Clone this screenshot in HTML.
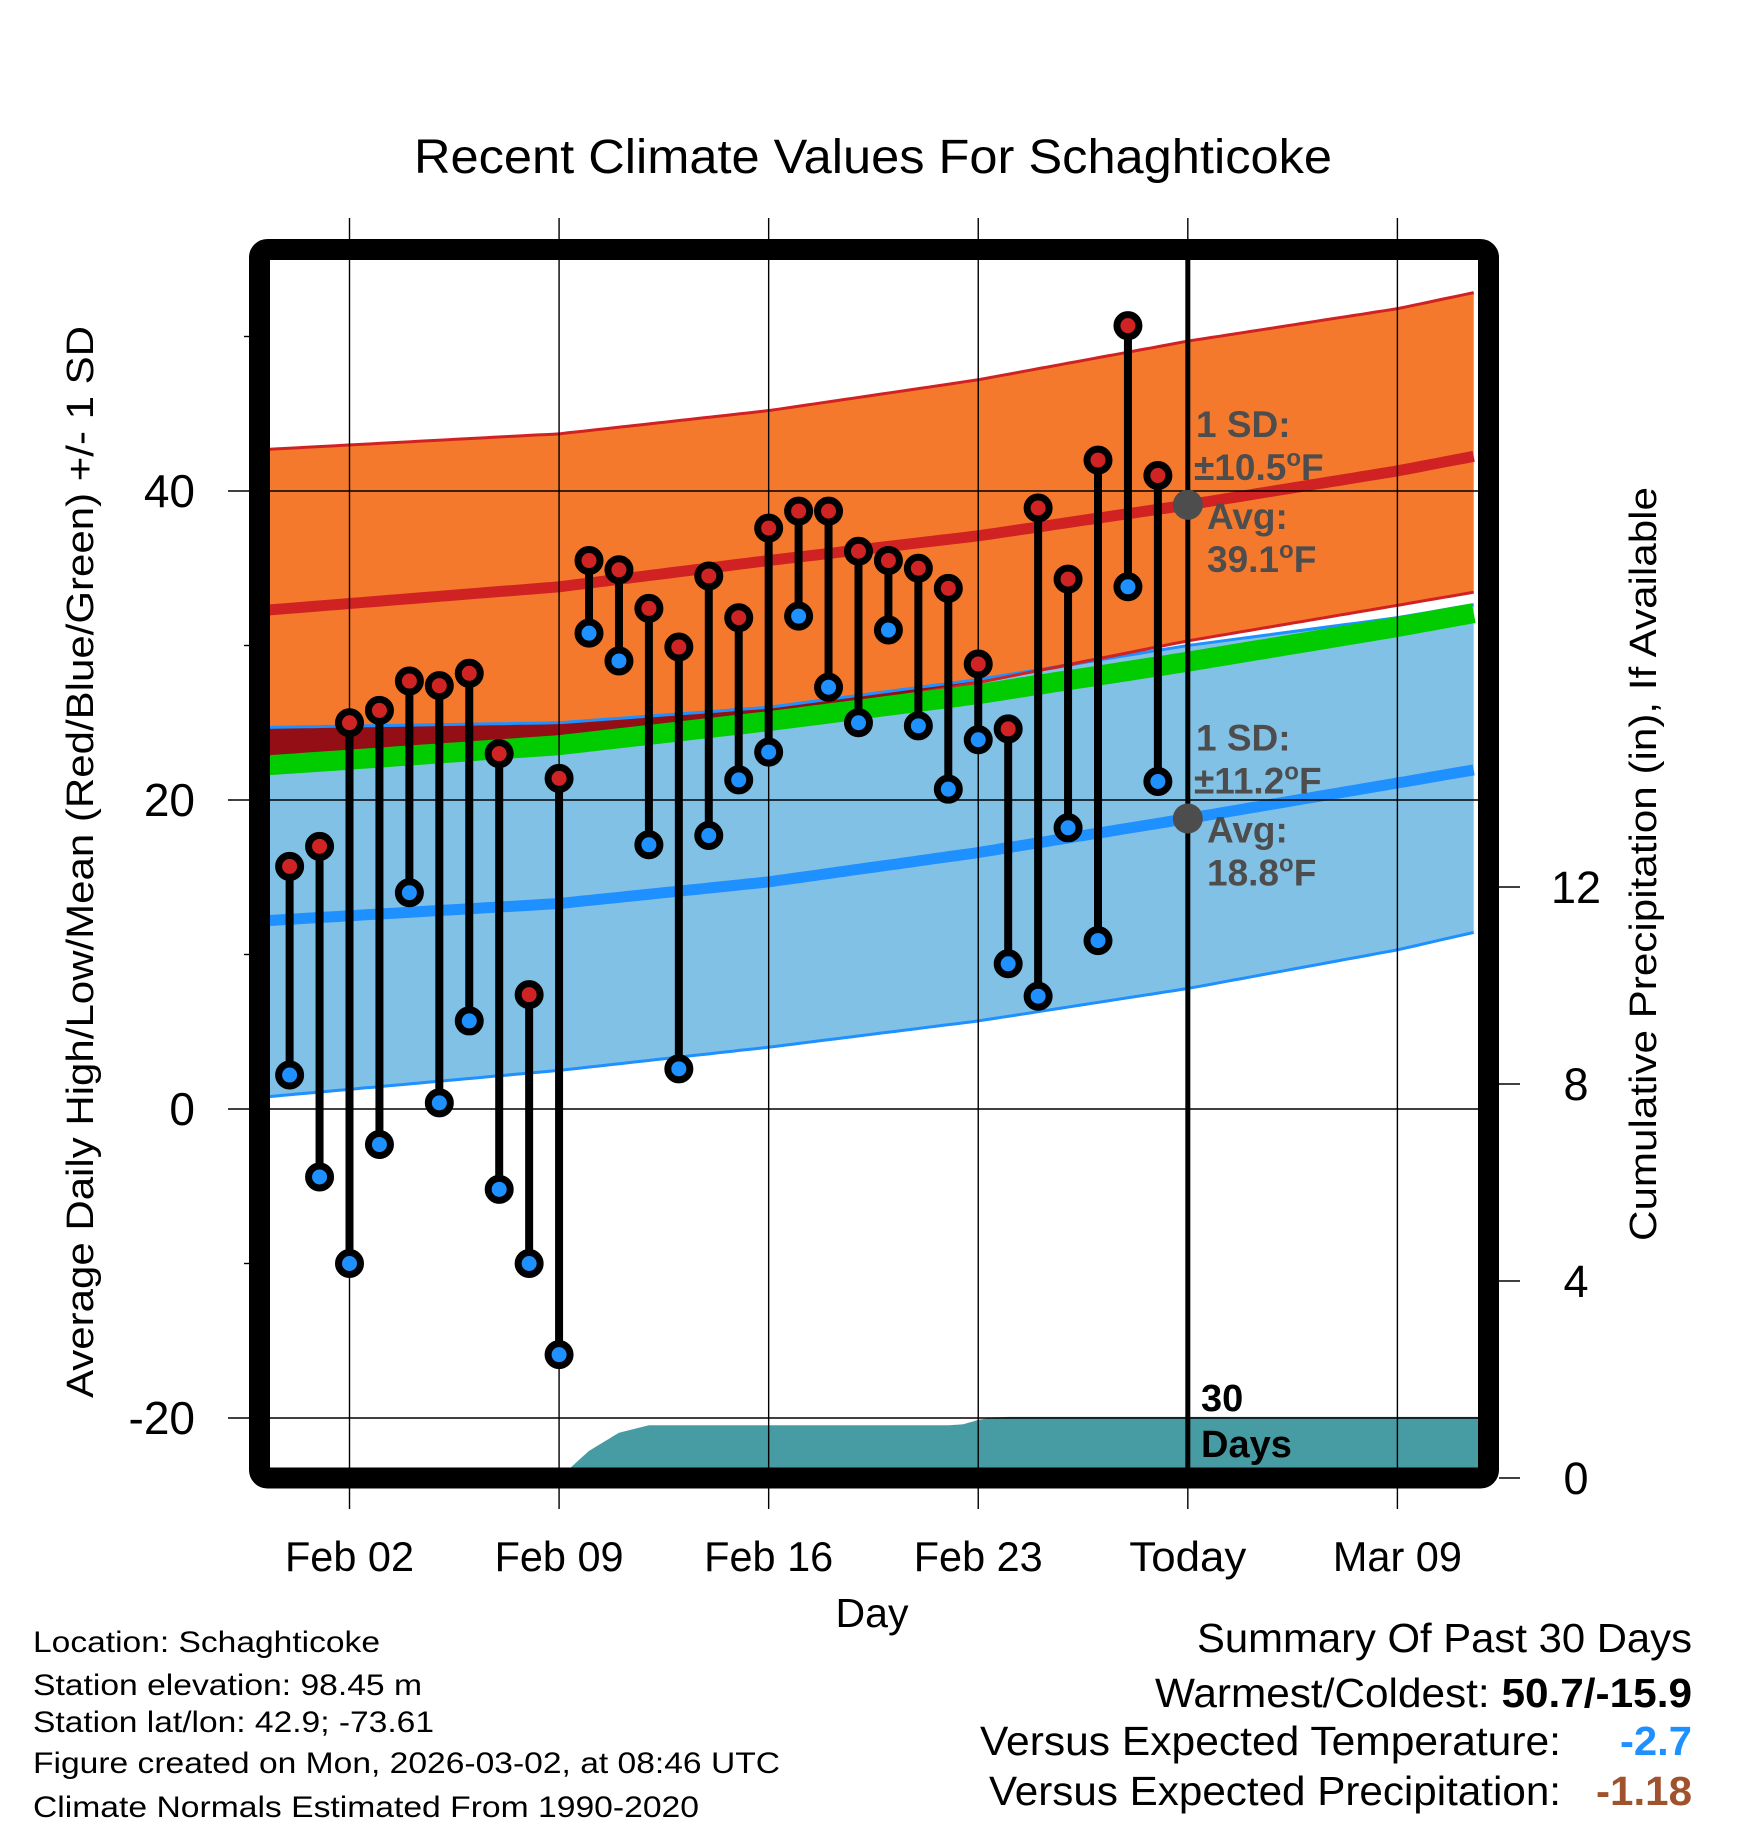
<!DOCTYPE html>
<html>
<head>
<meta charset="utf-8">
<style>
html,body{margin:0;padding:0;background:#fff;}
svg{display:block;}
text{font-family:"Liberation Sans",Arial,sans-serif;}
</style>
</head>
<body>
<svg id="chart" width="1748" height="1828" viewBox="0 0 1748 1828" xmlns="http://www.w3.org/2000/svg">
  <defs>
    <clipPath id="plotClip"><rect x="270" y="260" width="1208" height="1208"/></clipPath>
  </defs>
  <g id="bands" clip-path="url(#plotClip)"></g>
  <g id="grid"></g>
  <g id="precip" clip-path="url(#plotClip)"></g>
  <g id="lines" clip-path="url(#plotClip)"></g>
  <g id="obs"></g>
  <g id="annot"></g>
  <rect x="259.5" y="249.5" width="1229" height="1228.5" rx="8" fill="none" stroke="#000" stroke-width="21"/>
  <g id="axes"></g>

  <text x="873" y="173" font-size="48" text-anchor="middle" textLength="918" lengthAdjust="spacingAndGlyphs">Recent Climate Values For Schaghticoke</text>
  <text x="872" y="1627" font-size="41" text-anchor="middle" textLength="73" lengthAdjust="spacingAndGlyphs">Day</text>
  <text transform="translate(93,862) rotate(-90)" font-size="38" text-anchor="middle" textLength="1072" lengthAdjust="spacingAndGlyphs">Average Daily High/Low/Mean (Red/Blue/Green) +/- 1 SD</text>
  <text transform="translate(1656,864) rotate(-90)" font-size="38" text-anchor="middle" textLength="754" lengthAdjust="spacingAndGlyphs">Cumulative Precipitation (in), If Available</text>

  <g font-size="30">
    <text x="33" y="1652" textLength="347" lengthAdjust="spacingAndGlyphs">Location: Schaghticoke</text>
    <text x="33" y="1695" textLength="389" lengthAdjust="spacingAndGlyphs">Station elevation: 98.45 m</text>
    <text x="33" y="1732" textLength="401" lengthAdjust="spacingAndGlyphs">Station lat/lon: 42.9; -73.61</text>
    <text x="33" y="1773" textLength="747" lengthAdjust="spacingAndGlyphs">Figure created on Mon, 2026-03-02, at 08:46 UTC</text>
    <text x="33" y="1817" textLength="666" lengthAdjust="spacingAndGlyphs">Climate Normals Estimated From 1990-2020</text>
  </g>
  <g font-size="41">
    <text x="1197" y="1652" textLength="495" lengthAdjust="spacingAndGlyphs">Summary Of Past 30 Days</text>
    <text x="1155" y="1707" textLength="537" lengthAdjust="spacingAndGlyphs">Warmest/Coldest: <tspan font-weight="bold">50.7/-15.9</tspan></text>
    <text x="980" y="1755" textLength="581" lengthAdjust="spacingAndGlyphs">Versus Expected Temperature:</text>
    <text x="1620" y="1755" font-weight="bold" fill="#1e90ff" textLength="72" lengthAdjust="spacingAndGlyphs">-2.7</text>
    <text x="989" y="1805" textLength="572" lengthAdjust="spacingAndGlyphs">Versus Expected Precipitation:</text>
    <text x="1596" y="1805" font-weight="bold" fill="#a0522d" textLength="96" lengthAdjust="spacingAndGlyphs">-1.18</text>
  </g>
</svg>
<script>
// ---- data ----
const dayLabels = ["Jan 31","Feb 01","Feb 02","Feb 03","Feb 04","Feb 05","Feb 06","Feb 07","Feb 08","Feb 09","Feb 10","Feb 11","Feb 12","Feb 13","Feb 14","Feb 15","Feb 16","Feb 17","Feb 18","Feb 19","Feb 20","Feb 21","Feb 22","Feb 23","Feb 24","Feb 25","Feb 26","Feb 27","Feb 28","Mar 01"];
const dayIndex = [-2,-1,0,1,2,3,4,5,6,7,8,9,10,11,12,13,14,15,16,17,18,19,20,21,22,23,24,25,26,27];
const highs = [15.7,17.0,25.0,25.8,27.7,27.4,28.2,23.0,7.4,21.4,35.5,34.9,32.4,29.9,34.5,31.8,37.6,38.7,38.7,36.1,35.5,35.0,33.7,28.8,24.6,38.9,34.3,42.0,50.7,41.0];
const lows = [2.2,-4.4,-10.0,-2.3,14.0,0.4,5.7,-5.2,-10.0,-15.9,30.8,29.0,17.1,2.6,17.7,21.3,23.1,31.9,27.3,25.0,31.0,24.8,20.7,23.9,9.4,7.3,18.2,10.9,33.8,21.2];
// normals at nodes (days relative to Feb 02)
const normDays = [-2.7,7,14,21,28,35,37.7];
const normHigh = [32.3,33.8,35.5,37.1,39.1,41.3,42.3];
const normHighUpper = [42.7,43.7,45.2,47.2,49.7,51.8,52.9];
const normHighLower = [21.8,23.5,25.3,27.6,30.3,32.6,33.5];
const normLow = [12.2,13.3,14.7,16.6,18.8,21.1,22.0];
const normLowUpper = [24.7,25.0,26.0,27.8,30.0,31.8,32.7];
const normLowLower = [0.8,2.5,4.0,5.7,7.8,10.3,11.5];
// cumulative precipitation (in)
const precipDays = [7,8,9,10,11,12,13,14,15,16,17,18,19,20,20.5,21,21.5,22,28,37.7];
const precipCum = [0,0.55,0.92,1.07,1.07,1.07,1.07,1.07,1.07,1.07,1.07,1.07,1.07,1.07,1.09,1.18,1.23,1.24,1.24,1.24];
const xTickDays = [0,7,14,21,28,35];
const xTickLabels = ["Feb 02","Feb 09","Feb 16","Feb 23","Today","Mar 09"];
const yTicks = [40,20,0,-20];
const yMinor = [50,30,10,-10];
const y2Ticks = [0,4,8,12];

// ---- scales ----
const NS = "http://www.w3.org/2000/svg";
const X = d => 349.5 + d * 29.94;
const Y = t => 491 + (40 - t) * 15.45;
const Y2 = p => 1478 - p * 49.25;
function mk(parent, tag, attrs) {
  const e = document.createElementNS(NS, tag);
  for (const k in attrs) e.setAttribute(k, attrs[k]);
  parent.appendChild(e);
  return e;
}
function interp(xs, ys, x) {
  if (x <= xs[0]) return ys[0];
  for (let i = 1; i < xs.length; i++) {
    if (x <= xs[i]) { const f = (x - xs[i-1]) / (xs[i] - xs[i-1]); return ys[i-1] + f * (ys[i] - ys[i-1]); }
  }
  return ys[ys.length - 1];
}
const samp = [];
for (let d = -2.7; d <= 37.75; d += 0.25) samp.push(d);
function linePts(arr) { return samp.map(d => X(d).toFixed(1) + "," + Y(interp(normDays, arr, d)).toFixed(1)); }
function bandPath(up, lo) {
  const a = linePts(up), b = linePts(lo).reverse();
  return "M" + a.join("L") + "L" + b.join("L") + "Z";
}

const bands = document.getElementById("bands");
const hb = mk(bands, "path", {d: bandPath(normHighUpper, normHighLower), fill: "#f5792c"});


const lb = mk(bands, "path", {d: bandPath(normLowUpper, normLowLower), fill: "#82c1e6"});


const ovLo = normHighLower.map((v, i) => Math.min(v, normLowUpper[i]));
const ov = mk(bands, "path", {d: bandPath(normLowUpper, ovLo), fill: "#930e15"});



// grid
const grid = document.getElementById("grid");
xTickDays.forEach((d, i) => {
  const x = X(d);
  const g = mk(grid, "line", {x1: x, x2: x, y1: 218, y2: 1509, stroke: "#000", "stroke-width": 1.4});
  
  
});
yTicks.forEach(t => {
  const g = mk(grid, "line", {x1: 228, x2: 1478, y1: Y(t), y2: Y(t), stroke: "#000", "stroke-width": 1.4});
  
  
});

// precip
const pp = document.getElementById("precip");
let pd = "M" + X(precipDays[0]) + "," + Y2(0);
for (let d = precipDays[0]; d <= 37.75; d += 0.1) pd += "L" + X(d).toFixed(1) + "," + Y2(interp(precipDays, precipCum, d)).toFixed(1);
pd += "L" + X(37.75) + "," + Y2(0) + "Z";
const pa = mk(pp, "path", {d: pd, fill: "#479ba3"});



// normal lines
const lines = document.getElementById("lines");
const meanArr = normHigh.map((v, i) => (v + normLow[i]) / 2);
function poly(arr, color, w, name) {
  const p = mk(lines, "polyline", {points: linePts(arr).join(" "), fill: "none", stroke: color, "stroke-width": w});
  
  
}
poly(normLowUpper, "#1e90ff", 3, "low-upper-edge");
poly(normHighLower, "#d02222", 3, "high-lower-edge");
poly(meanArr, "#00cc00", 20, "normal-mean-line");
poly(normHighUpper, "#d02222", 3, "high-upper-edge");
poly(normLowLower, "#1e90ff", 3, "low-lower-edge");
poly(normHigh, "#d02222", 11, "normal-high-line");
poly(normLow, "#1e90ff", 11, "normal-low-line");

// today line
const tl = mk(grid, "line", {x1: X(28), x2: X(28), y1: 260, y2: 1468, stroke: "#000", "stroke-width": 5});


grid.parentNode.insertBefore(grid, document.getElementById("obs"));

// observations
const obs = document.getElementById("obs");
dayIndex.forEach((d, i) => {
  const x = X(d), yh = Y(highs[i]), yl = Y(lows[i]);
  const s = mk(obs, "line", {x1: x, x2: x, y1: yh, y2: yl, stroke: "#000", "stroke-width": 8});
  
  
  const c1 = mk(obs, "circle", {cx: x, cy: yl, r: 11, fill: "#1e90ff", stroke: "#000", "stroke-width": 7});
  
  
  const c2 = mk(obs, "circle", {cx: x, cy: yh, r: 11, fill: "#d02424", stroke: "#000", "stroke-width": 7});
  
  
});

// annotations
const an = document.getElementById("annot");
const avgVals = [39.1, 18.8];
const sdVals = ["10.5", "11.2"];
avgVals.forEach((v, i) => {
  const cy = Y(v);
  const dot = mk(an, "circle", {cx: X(28), cy: cy, r: 15, fill: "#4d4d4d"});
  
  
  const base = cy - 68;
  const t1 = mk(an, "text", {x: 1196, y: base, "font-size": 37, "font-weight": "bold", fill: "#4d4d4d"});
  t1.textContent = "1 SD:";
  
  
  const t2 = mk(an, "text", {x: 1194, y: base + 43, "font-size": 37, "font-weight": "bold", fill: "#4d4d4d"});
  t2.innerHTML = "±" + sdVals[i] + "<tspan font-size='24' dy='-14'>o</tspan><tspan dy='14'>F</tspan>";
  
  
  const t3 = mk(an, "text", {x: 1207, y: base + 92, "font-size": 37, "font-weight": "bold", fill: "#4d4d4d"});
  t3.textContent = "Avg:";
  
  
  const t4 = mk(an, "text", {x: 1207, y: base + 135, "font-size": 37, "font-weight": "bold", fill: "#4d4d4d"});
  t4.innerHTML = v.toFixed(1) + "<tspan font-size='24' dy='-14'>o</tspan><tspan dy='14'>F</tspan>";
  
  
});
const d1 = mk(an, "text", {x: 1201, y: 1411, "font-size": 38, "font-weight": "bold", fill: "#000"});
d1.textContent = "30";


const d2 = mk(an, "text", {x: 1201, y: 1457, "font-size": 38, "font-weight": "bold", fill: "#000"});
d2.textContent = "Days";



// axes ticks/labels
const ax = document.getElementById("axes");
xTickDays.forEach((d, i) => {
  const t = mk(ax, "text", {x: X(d), y: 1571, "font-size": 42, "text-anchor": "middle", textLength: xTickLabels[i] === "Today" ? 117 : 129, lengthAdjust: "spacingAndGlyphs"});
  t.textContent = xTickLabels[i];
  
  
});
yTicks.forEach(v => {
  const t = mk(ax, "text", {x: 195, y: Y(v) + 16, "font-size": 46, "text-anchor": "end"});
  t.textContent = v;
  
  
});
yMinor.forEach(v => {
  const l = mk(ax, "line", {x1: 244, x2: 250, y1: Y(v), y2: Y(v), stroke: "#000", "stroke-width": 1.4});
  
  
});
y2Ticks.forEach(v => {
  const l = mk(ax, "line", {x1: 1499, x2: 1520, y1: Y2(v), y2: Y2(v), stroke: "#000", "stroke-width": 1.4});
  
  
  const t = mk(ax, "text", {x: 1576, y: Y2(v) + 16, "font-size": 45, "text-anchor": "middle"});
  t.textContent = v;
  
  
});
</script>
</body>
</html>
